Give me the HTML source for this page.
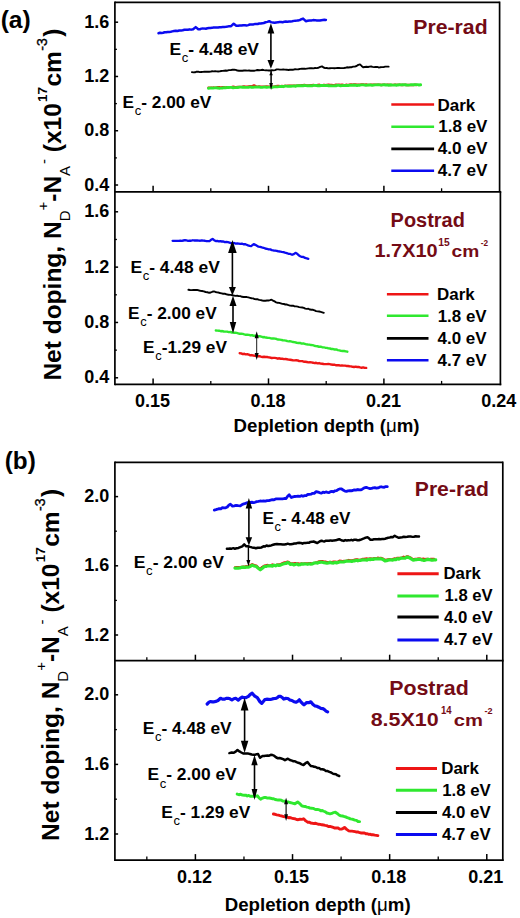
<!DOCTYPE html>
<html><head><meta charset="utf-8"><style>
html,body{margin:0;padding:0;background:#fff;}
svg{display:block;}
text{font-family:'Liberation Sans', sans-serif;font-weight:bold;}
</style></head><body>
<svg width="520" height="918" viewBox="0 0 520 918">
<rect width="520" height="918" fill="#fff"/>
<line x1="114.90" y1="2.40" x2="499.60" y2="2.40" stroke="#000" stroke-width="1.7"/>
<line x1="114.90" y1="1.55" x2="114.90" y2="385.25" stroke="#000" stroke-width="1.7"/>
<line x1="499.60" y1="1.55" x2="499.60" y2="191.80" stroke="#000" stroke-width="1.7"/>
<line x1="500.40" y1="191.80" x2="500.40" y2="385.25" stroke="#000" stroke-width="1.7"/>
<line x1="114.90" y1="191.80" x2="501.25" y2="191.80" stroke="#000" stroke-width="1.7"/>
<line x1="114.90" y1="384.40" x2="501.25" y2="384.40" stroke="#000" stroke-width="1.7"/>
<line x1="153.10" y1="191.80" x2="153.10" y2="185.80" stroke="#000" stroke-width="1.5"/>
<line x1="268.50" y1="191.80" x2="268.50" y2="185.80" stroke="#000" stroke-width="1.5"/>
<line x1="383.90" y1="191.80" x2="383.90" y2="185.80" stroke="#000" stroke-width="1.5"/>
<line x1="210.80" y1="191.80" x2="210.80" y2="188.30" stroke="#000" stroke-width="1.3"/>
<line x1="326.20" y1="191.80" x2="326.20" y2="188.30" stroke="#000" stroke-width="1.3"/>
<line x1="441.60" y1="191.80" x2="441.60" y2="188.30" stroke="#000" stroke-width="1.3"/>
<line x1="153.10" y1="384.40" x2="153.10" y2="378.40" stroke="#000" stroke-width="1.5"/>
<line x1="268.50" y1="384.40" x2="268.50" y2="378.40" stroke="#000" stroke-width="1.5"/>
<line x1="383.90" y1="384.40" x2="383.90" y2="378.40" stroke="#000" stroke-width="1.5"/>
<line x1="210.80" y1="384.40" x2="210.80" y2="380.90" stroke="#000" stroke-width="1.3"/>
<line x1="326.20" y1="384.40" x2="326.20" y2="380.90" stroke="#000" stroke-width="1.3"/>
<line x1="441.60" y1="384.40" x2="441.60" y2="380.90" stroke="#000" stroke-width="1.3"/>
<line x1="114.90" y1="22.20" x2="118.10" y2="22.20" stroke="#000" stroke-width="1.5"/>
<text x="109.40" y="27.70" font-size="18" fill="#000" text-anchor="end">1.6</text>
<line x1="114.90" y1="76.47" x2="118.10" y2="76.47" stroke="#000" stroke-width="1.5"/>
<text x="109.40" y="81.97" font-size="18" fill="#000" text-anchor="end">1.2</text>
<line x1="114.90" y1="130.74" x2="118.10" y2="130.74" stroke="#000" stroke-width="1.5"/>
<text x="109.40" y="136.24" font-size="18" fill="#000" text-anchor="end">0.8</text>
<line x1="114.90" y1="185.01" x2="118.10" y2="185.01" stroke="#000" stroke-width="1.5"/>
<text x="109.40" y="190.51" font-size="18" fill="#000" text-anchor="end">0.4</text>
<line x1="114.90" y1="49.34" x2="116.90" y2="49.34" stroke="#000" stroke-width="1.3"/>
<line x1="114.90" y1="103.61" x2="116.90" y2="103.61" stroke="#000" stroke-width="1.3"/>
<line x1="114.90" y1="157.88" x2="116.90" y2="157.88" stroke="#000" stroke-width="1.3"/>
<line x1="114.90" y1="211.80" x2="118.10" y2="211.80" stroke="#000" stroke-width="1.5"/>
<text x="109.40" y="217.30" font-size="18" fill="#000" text-anchor="end">1.6</text>
<line x1="114.90" y1="267.13" x2="118.10" y2="267.13" stroke="#000" stroke-width="1.5"/>
<text x="109.40" y="272.63" font-size="18" fill="#000" text-anchor="end">1.2</text>
<line x1="114.90" y1="322.46" x2="118.10" y2="322.46" stroke="#000" stroke-width="1.5"/>
<text x="109.40" y="327.96" font-size="18" fill="#000" text-anchor="end">0.8</text>
<line x1="114.90" y1="377.79" x2="118.10" y2="377.79" stroke="#000" stroke-width="1.5"/>
<text x="109.40" y="383.29" font-size="18" fill="#000" text-anchor="end">0.4</text>
<line x1="114.90" y1="239.47" x2="116.90" y2="239.47" stroke="#000" stroke-width="1.3"/>
<line x1="114.90" y1="294.80" x2="116.90" y2="294.80" stroke="#000" stroke-width="1.3"/>
<line x1="114.90" y1="350.13" x2="116.90" y2="350.13" stroke="#000" stroke-width="1.3"/>
<text x="152.60" y="406.50" font-size="18" fill="#000" text-anchor="middle">0.15</text>
<text x="268.00" y="406.50" font-size="18" fill="#000" text-anchor="middle">0.18</text>
<text x="383.40" y="406.50" font-size="18" fill="#000" text-anchor="middle">0.21</text>
<text x="498.80" y="406.50" font-size="18" fill="#000" text-anchor="middle">0.24</text>
<text transform="translate(233.53,431.90) scale(1.0671,1)" font-size="17.5" fill="#000" text-anchor="start">Depletion depth (<tspan font-weight="normal">&#956;</tspan>m)</text>
<text transform="translate(0.63,27.80) scale(1.0731,1)" font-size="23" fill="#000" text-anchor="start">(a)</text>
<path d="M158.50,33.20 L160.03,32.78 L161.57,33.01 L163.10,32.76 L164.63,32.25 L166.17,32.20 L167.70,31.97 L169.23,31.89 L170.77,31.77 L172.30,31.40 L174.03,30.96 L175.77,30.72 L177.50,31.00 L179.23,30.56 L180.97,30.56 L182.70,30.20 L184.43,29.73 L186.17,29.83 L187.90,29.83 L189.63,29.37 L191.37,29.63 L193.10,29.20 L195.70,27.10 L198.30,29.20 L199.81,29.29 L201.33,28.62 L202.84,28.47 L204.35,28.62 L205.86,28.71 L207.38,28.23 L208.89,27.98 L210.40,28.00 L211.93,27.85 L213.47,27.52 L215.00,27.53 L216.53,27.56 L218.07,27.50 L219.60,27.24 L221.13,27.14 L222.67,27.03 L224.20,27.10 L225.92,26.85 L227.65,26.52 L229.38,26.14 L231.10,26.20 L233.70,23.70 L236.30,25.70 L238.04,25.82 L239.78,25.57 L241.52,25.55 L243.26,25.19 L245.00,25.30 L246.60,25.40 L248.20,25.12 L249.80,24.47 L251.40,24.40 L253.00,24.43 L254.60,24.10 L256.13,24.04 L257.67,24.00 L259.20,23.50 L260.73,23.56 L262.27,23.29 L263.80,23.00 L265.60,22.28 L267.40,21.85 L269.20,21.20 L271.05,22.13 L272.90,22.60 L274.52,22.71 L276.14,22.40 L277.77,22.35 L279.39,21.92 L281.01,21.95 L282.63,22.18 L284.26,21.85 L285.88,21.60 L287.50,21.70 L289.07,21.54 L290.64,21.45 L292.21,21.25 L293.79,20.88 L295.36,20.73 L296.93,20.59 L298.50,20.40 L300.03,19.97 L301.57,19.21 L303.10,18.60 L305.80,21.20 L307.65,20.74 L309.50,20.40 L311.32,20.39 L313.15,20.12 L314.98,20.13 L316.80,20.40 L318.32,20.44 L319.83,20.52 L321.35,20.21 L322.87,20.00 L324.38,19.79 L325.90,19.90" fill="none" stroke="#0b0bf0" stroke-width="2.5" stroke-linejoin="round" stroke-linecap="round"/>
<path d="M191.90,72.10 L193.47,72.33 L195.04,72.29 L196.61,71.71 L198.18,71.69 L199.75,72.10 L201.32,72.00 L202.89,71.92 L204.46,71.66 L206.03,71.80 L207.60,71.70 L209.11,71.69 L210.62,71.59 L212.12,71.26 L213.63,71.35 L215.14,71.25 L216.65,71.37 L218.15,71.46 L219.66,71.35 L221.17,71.03 L222.68,70.90 L224.18,70.71 L225.69,70.50 L227.20,70.70 L228.92,70.14 L230.65,70.13 L232.38,69.77 L234.10,69.60 L235.73,69.89 L237.37,70.57 L239.00,70.70 L240.67,70.72 L242.34,70.74 L244.01,70.54 L245.69,70.41 L247.36,70.60 L249.03,70.48 L250.70,70.70 L252.39,70.58 L254.07,70.74 L255.76,70.42 L257.44,69.99 L259.13,70.29 L260.81,70.11 L262.50,69.80 L264.08,70.08 L265.66,70.32 L267.24,70.38 L268.82,70.53 L270.40,70.50 L271.96,70.19 L273.52,70.35 L275.08,70.12 L276.64,69.42 L278.20,69.40 L279.89,69.61 L281.57,69.64 L283.26,69.55 L284.94,69.65 L286.63,69.68 L288.31,70.00 L290.00,69.80 L291.70,69.64 L293.40,69.68 L295.10,69.24 L296.80,69.40 L298.50,69.25 L300.20,68.83 L301.90,68.70 L303.54,68.67 L305.19,68.82 L306.83,68.63 L308.48,68.43 L310.12,68.20 L311.77,68.19 L313.41,68.35 L315.06,67.97 L316.70,68.10 L318.47,67.78 L320.23,66.83 L322.00,66.40 L323.60,67.50 L325.20,68.10 L326.74,67.99 L328.27,68.37 L329.81,68.22 L331.35,68.10 L332.88,68.11 L334.42,68.19 L335.95,68.15 L337.49,67.99 L339.03,67.92 L340.56,68.11 L342.10,68.10 L343.69,68.17 L345.28,67.80 L346.86,67.28 L348.45,67.54 L350.04,67.30 L351.62,67.22 L353.21,66.60 L354.80,66.60 L356.53,66.01 L358.27,64.87 L360.00,64.40 L361.60,65.94 L363.20,67.30 L364.80,66.99 L366.40,66.79 L368.00,67.00 L369.60,66.60 L371.10,66.46 L372.60,66.81 L374.10,67.11 L375.60,66.85 L377.10,66.93 L378.60,67.43 L380.10,67.30 L381.80,67.11 L383.50,67.15 L385.20,66.60 L386.90,66.66 L388.60,66.60" fill="none" stroke="#000" stroke-width="1.9" stroke-linejoin="round" stroke-linecap="round"/>
<path d="M208.50,87.80 L210.04,87.59 L211.57,87.73 L213.11,87.57 L214.65,87.66 L216.18,87.63 L217.72,87.24 L219.25,87.16 L220.79,87.60 L222.33,87.21 L223.86,87.14 L225.40,87.55 L226.94,87.18 L228.47,87.35 L230.01,87.09 L231.55,87.13 L233.08,86.79 L234.62,87.03 L236.15,87.12 L237.69,86.86 L239.23,86.94 L240.76,86.85 L242.30,86.70 L243.92,86.39 L245.53,86.75 L247.15,86.60 L248.77,86.38 L250.38,86.17 L252.00,86.40 L254.00,85.40 L256.00,86.40 L257.53,86.64 L259.07,86.43 L260.60,86.60 L262.13,86.72 L263.67,86.64 L265.20,86.79 L266.73,86.49 L268.27,86.76 L269.80,86.60 L271.31,86.50 L272.82,86.73 L274.33,86.63 L275.84,86.09 L277.35,86.05 L278.86,86.03 L280.37,86.41 L281.88,86.03 L283.39,86.08 L284.90,85.81 L286.40,85.87 L287.91,85.73 L289.42,85.64 L290.93,85.72 L292.44,85.65 L293.95,85.78 L295.46,85.58 L296.97,85.66 L298.48,85.55 L299.99,85.56 L301.50,85.20 L303.00,85.29 L304.50,84.98 L306.00,85.38 L307.50,85.44 L309.00,85.39 L310.50,85.18 L312.00,85.25 L313.50,84.94 L315.00,85.30 L316.50,85.14 L318.00,84.96 L319.50,84.81 L321.00,85.28 L322.50,85.35 L324.00,84.80 L325.50,85.21 L327.00,84.97 L328.50,84.80 L330.00,85.00 L331.50,84.86 L333.00,85.12 L334.50,85.16 L336.00,84.65 L337.50,84.97 L339.00,84.61 L340.50,84.99 L342.00,84.74 L343.50,85.05 L345.00,85.09 L346.50,84.78 L348.00,85.06 L349.50,84.63 L351.00,84.47 L352.50,84.76 L354.00,84.40 L355.50,84.48 L357.00,84.58 L358.50,84.69 L360.00,84.60 L361.53,84.40 L363.05,84.35 L364.58,84.85 L366.11,84.53 L367.64,84.93 L369.16,84.90 L370.69,84.60 L372.22,84.66 L373.74,84.71 L375.27,84.79 L376.80,84.78 L378.32,84.77 L379.85,84.81 L381.38,85.02 L382.91,84.77 L384.43,84.73 L385.96,84.92 L387.49,84.64 L389.01,84.69 L390.54,85.10 L392.07,84.84 L393.59,84.87 L395.12,84.56 L396.65,84.81 L398.18,84.92 L399.70,84.59 L401.23,84.96 L402.76,84.98 L404.28,84.65 L405.81,85.00 L407.34,84.91 L408.86,85.05 L410.39,84.87 L411.92,85.09 L413.45,85.12 L414.97,84.70 L416.50,85.00" fill="none" stroke="#ee1515" stroke-width="2.4" stroke-linejoin="round" stroke-linecap="round"/>
<path d="M208.50,88.30 L210.04,88.09 L211.57,87.96 L213.11,88.09 L214.65,87.89 L216.18,87.79 L217.72,87.94 L219.25,88.20 L220.79,88.08 L222.33,88.01 L223.86,87.63 L225.40,87.77 L226.94,87.57 L228.47,87.45 L230.01,87.36 L231.55,87.38 L233.08,87.76 L234.62,87.65 L236.15,87.58 L237.69,87.53 L239.23,87.12 L240.76,87.14 L242.30,87.20 L243.83,87.27 L245.36,87.33 L246.88,87.40 L248.41,87.41 L249.94,86.92 L251.47,87.23 L252.99,87.26 L254.52,87.16 L256.05,86.96 L257.58,87.13 L259.11,86.89 L260.63,87.39 L262.16,87.35 L263.69,87.15 L265.22,87.00 L266.74,87.36 L268.27,87.15 L269.80,87.10 L271.31,87.26 L272.82,87.18 L274.33,86.91 L275.84,86.78 L277.35,86.83 L278.86,86.66 L280.37,86.43 L281.88,86.45 L283.39,86.69 L284.90,86.16 L286.40,86.09 L287.91,86.38 L289.42,86.10 L290.93,86.19 L292.44,86.08 L293.95,85.94 L295.46,86.27 L296.97,85.72 L298.48,85.78 L299.99,85.59 L301.50,85.70 L303.00,85.77 L304.50,85.56 L306.00,85.60 L307.50,85.83 L309.00,85.57 L310.50,85.70 L312.00,85.91 L313.50,85.42 L315.00,85.39 L316.50,85.48 L318.00,85.80 L319.50,85.71 L321.00,85.47 L322.50,85.52 L324.00,85.43 L325.50,85.59 L327.00,85.34 L328.50,85.72 L330.00,85.60 L331.50,85.82 L333.00,85.83 L334.50,85.68 L336.00,85.80 L337.50,85.21 L339.00,85.35 L340.50,85.74 L342.00,85.61 L343.50,85.37 L345.00,85.67 L346.50,85.45 L348.00,85.55 L349.50,85.22 L351.00,85.13 L352.50,85.27 L354.00,85.06 L355.50,85.19 L357.00,85.52 L358.50,85.12 L360.00,85.20 L361.51,84.90 L363.03,84.91 L364.55,84.97 L366.06,85.33 L367.57,85.07 L369.09,85.01 L370.61,84.89 L372.12,85.41 L373.63,85.06 L375.15,84.92 L376.67,84.83 L378.18,84.81 L379.69,84.87 L381.21,85.17 L382.73,84.84 L384.24,84.76 L385.75,85.02 L387.27,84.87 L388.79,85.31 L390.30,84.77 L391.81,85.01 L393.33,85.14 L394.85,84.92 L396.36,85.25 L397.88,84.94 L399.39,84.79 L400.91,84.88 L402.42,84.64 L403.94,84.86 L405.45,84.75 L406.97,85.12 L408.48,85.08 L410.00,84.87 L411.51,84.58 L413.03,84.70 L414.54,84.69 L416.06,84.65 L417.57,84.66 L419.09,85.03 L420.60,84.80" fill="none" stroke="#2fe82f" stroke-width="2.9" stroke-linejoin="round" stroke-linecap="round"/>
<line x1="270.90" y1="28.35" x2="270.90" y2="64.40" stroke="#000" stroke-width="1.6"/>
<path d="M270.90,23.20 L267.50,33.50 L274.30,33.50 Z" fill="#000"/>
<path d="M270.90,68.80 L267.50,60.00 L274.30,60.00 Z" fill="#000"/>
<line x1="271.10" y1="71.00" x2="271.10" y2="86.00" stroke="#000" stroke-width="1.5"/>
<path d="M271.10,71.50 L269.30,75.30 L272.90,75.30 Z" fill="#000"/>
<path d="M271.10,90.00 L269.30,83.00 L272.90,83.00 Z" fill="#000"/>
<text transform="translate(169.41,54.80) scale(1.0901,1)" font-size="16" fill="#000" text-anchor="start">E<tspan font-size="12" font-weight="normal" dy="7.2" dx="0.6">c</tspan><tspan dy="-7.2">- 4.48 eV</tspan></text>
<text transform="translate(122.62,108.10) scale(1.0802,1)" font-size="16" fill="#000" text-anchor="start">E<tspan font-size="12" font-weight="normal" dy="7.2" dx="0.6">c</tspan><tspan dy="-7.2">- 2.00 eV</tspan></text>
<text transform="translate(413.26,33.60) scale(1.0371,1)" font-size="20.5" fill="#740b15" text-anchor="start">Pre-rad</text>
<line x1="391.30" y1="104.50" x2="434.10" y2="104.50" stroke="#ee1515" stroke-width="2.6"/>
<text transform="translate(437.47,110.60) scale(1.0306,1)" font-size="16.5" fill="#000" text-anchor="start">Dark</text>
<line x1="391.30" y1="126.70" x2="434.10" y2="126.70" stroke="#2fe82f" stroke-width="2.6"/>
<text transform="translate(438.37,132.25) scale(1.0287,1)" font-size="16.5" fill="#000" text-anchor="start">1.8 eV</text>
<line x1="391.30" y1="148.90" x2="434.10" y2="148.90" stroke="#000" stroke-width="2.6"/>
<text transform="translate(437.75,153.75) scale(1.0417,1)" font-size="16.5" fill="#000" text-anchor="start">4.0 eV</text>
<line x1="391.30" y1="170.70" x2="434.10" y2="170.70" stroke="#0b0bf0" stroke-width="2.6"/>
<text transform="translate(437.75,175.60) scale(1.0417,1)" font-size="16.5" fill="#000" text-anchor="start">4.7 eV</text>
<path d="M172.60,240.80 L174.14,240.83 L175.69,240.86 L177.23,240.85 L178.77,240.89 L180.31,240.73 L181.86,240.80 L183.40,240.50 L184.94,240.22 L186.47,240.48 L188.01,240.77 L189.55,240.59 L191.09,240.74 L192.62,240.27 L194.16,240.48 L195.70,240.50 L197.23,240.41 L198.77,240.66 L200.30,240.74 L201.83,240.47 L203.37,240.66 L204.90,240.77 L206.43,241.22 L207.97,241.19 L209.50,241.10 L211.05,239.80 L212.60,238.90 L214.15,240.18 L215.70,241.10 L217.22,240.98 L218.75,241.37 L220.28,241.18 L221.80,241.50 L223.34,241.42 L224.88,242.16 L226.42,241.99 L227.96,242.21 L229.50,242.60 L231.04,243.07 L232.58,243.18 L234.12,243.01 L235.66,243.60 L237.20,243.50 L238.76,243.64 L240.32,243.85 L241.88,243.68 L243.44,244.24 L245.00,244.10 L246.53,244.71 L248.05,245.38 L249.57,245.84 L251.10,246.10 L253.70,244.10 L255.30,244.85 L256.90,245.75 L258.50,246.70 L260.18,246.95 L261.85,247.39 L263.52,247.79 L265.20,248.50 L266.88,248.78 L268.55,249.36 L270.22,249.40 L271.90,250.10 L273.52,250.49 L275.14,250.56 L276.76,250.83 L278.38,251.41 L280.00,251.50 L281.68,251.89 L283.35,252.19 L285.02,252.69 L286.70,253.10 L288.50,253.79 L290.30,253.97 L292.10,254.80 L293.80,254.09 L295.50,252.80 L297.07,253.65 L298.63,255.22 L300.20,256.20 L301.82,256.95 L303.44,256.99 L305.06,257.99 L306.68,258.28 L308.30,258.90" fill="none" stroke="#0b0bf0" stroke-width="2.3" stroke-linejoin="round" stroke-linecap="round"/>
<path d="M188.40,289.80 L190.08,290.06 L191.77,290.16 L193.45,290.04 L195.13,289.99 L196.82,289.92 L198.50,290.30 L200.27,290.76 L202.03,291.02 L203.80,291.40 L205.60,292.02 L207.40,292.26 L209.20,292.80 L210.77,292.50 L212.33,291.73 L213.90,291.40 L215.43,291.98 L216.95,292.34 L218.47,292.55 L220.00,293.00 L221.57,293.32 L223.13,293.71 L224.70,293.72 L226.27,294.23 L227.83,294.68 L229.40,294.80 L230.97,294.88 L232.53,295.42 L234.10,295.56 L235.67,295.87 L237.23,295.78 L238.80,296.10 L240.40,296.10 L242.00,296.77 L243.60,297.01 L245.20,297.04 L246.80,297.07 L248.40,297.38 L250.00,297.80 L251.54,298.22 L253.07,298.35 L254.61,299.08 L256.15,299.20 L257.69,299.31 L259.23,299.92 L260.76,300.08 L262.30,300.50 L263.85,300.76 L265.40,300.75 L266.95,300.51 L268.50,300.50 L270.00,300.19 L271.50,299.70 L273.05,300.59 L274.60,301.43 L276.15,302.31 L277.70,302.80 L279.24,302.85 L280.79,303.37 L282.33,303.85 L283.87,304.00 L285.41,304.50 L286.96,304.53 L288.50,305.10 L290.03,305.61 L291.56,305.69 L293.09,305.73 L294.61,306.34 L296.14,306.42 L297.67,306.63 L299.20,307.10 L300.74,307.42 L302.27,307.53 L303.81,307.90 L305.35,308.62 L306.89,308.84 L308.43,308.76 L309.96,309.54 L311.50,309.70 L313.04,309.80 L314.57,310.37 L316.11,311.11 L317.65,311.32 L319.19,311.52 L320.73,311.95 L322.26,312.35 L323.80,312.80" fill="none" stroke="#000" stroke-width="1.9" stroke-linejoin="round" stroke-linecap="round"/>
<path d="M215.80,330.50 L217.42,330.59 L219.04,330.69 L220.66,331.19 L222.28,331.04 L223.90,331.52 L225.52,331.62 L227.14,331.63 L228.76,332.10 L230.38,332.02 L232.00,332.50 L233.54,332.68 L235.08,332.68 L236.62,332.91 L238.16,333.33 L239.70,333.80 L241.24,333.59 L242.78,333.87 L244.32,334.34 L245.86,334.75 L247.40,334.75 L248.94,334.86 L250.48,335.43 L252.02,335.09 L253.56,335.80 L255.10,335.80 L256.64,335.91 L258.18,336.07 L259.72,336.29 L261.26,336.65 L262.80,337.19 L264.34,337.05 L265.88,337.53 L267.42,337.80 L268.96,337.88 L270.50,338.20 L272.04,338.48 L273.57,338.44 L275.11,338.69 L276.64,339.02 L278.18,339.56 L279.71,339.66 L281.25,339.84 L282.79,340.25 L284.32,340.42 L285.86,340.58 L287.39,341.13 L288.93,341.32 L290.46,341.30 L292.00,341.70 L293.60,342.02 L295.20,342.28 L296.80,342.77 L298.40,342.96 L300.00,342.97 L301.60,343.67 L303.20,343.43 L304.80,343.89 L306.40,344.37 L308.00,344.50 L309.57,344.58 L311.14,345.06 L312.71,345.08 L314.29,345.74 L315.86,346.09 L317.43,346.26 L319.00,346.73 L320.57,346.67 L322.14,347.19 L323.71,347.41 L325.29,347.69 L326.86,347.90 L328.43,348.42 L330.00,348.50 L331.57,349.06 L333.15,349.07 L334.72,349.47 L336.29,349.40 L337.86,350.08 L339.44,350.33 L341.01,350.83 L342.58,351.02 L344.15,350.99 L345.73,351.34 L347.30,351.70" fill="none" stroke="#2fe82f" stroke-width="2.4" stroke-linejoin="round" stroke-linecap="round"/>
<path d="M239.70,353.30 L241.22,353.38 L242.74,354.06 L244.26,353.80 L245.79,354.39 L247.31,354.27 L248.83,354.61 L250.35,355.30 L251.87,355.07 L253.39,355.57 L254.91,355.70 L256.44,355.94 L257.96,356.21 L259.48,356.27 L261.00,356.70 L262.53,357.05 L264.06,356.76 L265.59,357.00 L267.12,357.02 L268.65,357.32 L270.18,357.56 L271.71,358.01 L273.24,357.85 L274.76,357.84 L276.29,358.08 L277.82,358.68 L279.35,358.27 L280.88,358.76 L282.41,358.77 L283.94,359.09 L285.47,359.05 L287.00,359.30 L288.53,359.61 L290.06,359.70 L291.59,359.99 L293.12,360.34 L294.65,360.35 L296.18,360.29 L297.71,360.44 L299.24,361.17 L300.76,361.09 L302.29,361.12 L303.82,361.77 L305.35,361.75 L306.88,362.04 L308.41,362.33 L309.94,362.17 L311.47,362.41 L313.00,362.70 L314.52,363.08 L316.05,362.79 L317.57,363.32 L319.09,363.07 L320.62,363.58 L322.14,363.74 L323.66,364.04 L325.19,364.13 L326.71,364.08 L328.24,364.05 L329.76,364.17 L331.28,364.55 L332.81,364.69 L334.33,364.58 L335.85,365.24 L337.38,365.15 L338.90,365.30 L340.42,365.57 L341.93,365.42 L343.45,365.58 L344.97,365.58 L346.48,365.93 L348.00,366.03 L349.52,366.27 L351.03,366.38 L352.55,366.80 L354.07,366.98 L355.58,366.69 L357.10,366.97 L358.62,366.98 L360.13,367.42 L361.65,367.75 L363.17,367.43 L364.68,367.92 L366.20,367.90" fill="none" stroke="#ee1515" stroke-width="2.4" stroke-linejoin="round" stroke-linecap="round"/>
<line x1="232.40" y1="246.60" x2="232.40" y2="291.30" stroke="#000" stroke-width="1.6"/>
<path d="M232.40,240.10 L228.10,253.10 L236.70,253.10 Z" fill="#000"/>
<path d="M232.40,295.60 L228.90,287.00 L235.90,287.00 Z" fill="#000"/>
<line x1="233.00" y1="300.95" x2="233.00" y2="327.65" stroke="#000" stroke-width="1.6"/>
<path d="M233.00,295.80 L229.50,306.10 L236.50,306.10 Z" fill="#000"/>
<path d="M233.00,333.40 L229.75,321.90 L236.25,321.90 Z" fill="#000"/>
<line x1="256.70" y1="335.00" x2="256.70" y2="356.00" stroke="#000" stroke-width="0.9"/>
<path d="M256.70,331.30 L254.60,338.30 L258.80,338.30 Z" fill="#000"/>
<path d="M256.70,360.10 L254.70,353.10 L258.70,353.10 Z" fill="#000"/>
<text transform="translate(130.41,272.60) scale(1.0889,1)" font-size="16" fill="#000" text-anchor="start">E<tspan font-size="12" font-weight="normal" dy="7.2" dx="0.6">c</tspan><tspan dy="-7.2">- 4.48 eV</tspan></text>
<text transform="translate(128.12,318.80) scale(1.0778,1)" font-size="16" fill="#000" text-anchor="start">E<tspan font-size="12" font-weight="normal" dy="7.2" dx="0.6">c</tspan><tspan dy="-7.2">- 2.00 eV</tspan></text>
<text transform="translate(143.12,352.70) scale(1.0792,1)" font-size="16" fill="#000" text-anchor="start">E<tspan font-size="12" font-weight="normal" dy="7.2" dx="0.6">c</tspan><tspan dy="-7.2">-1.29 eV</tspan></text>
<text transform="translate(390.58,227.10) scale(1.0225,1)" font-size="19.5" fill="#740b15" text-anchor="start">Postrad</text>
<text transform="translate(374.42,256.60) scale(1.0789,1)" font-size="18.5" fill="#740b15" text-anchor="start">1.7X10</text>
<text transform="translate(438.30,245.50) scale(1.0273,1)" font-size="10" fill="#740b15" text-anchor="start">15</text>
<text transform="translate(451.50,256.60) scale(1.1292,1)" font-size="17" fill="#740b15" text-anchor="start">cm</text>
<text transform="translate(480.80,245.80) scale(0.8667,1)" font-size="9.5" fill="#740b15" text-anchor="start">-2</text>
<line x1="386.90" y1="294.30" x2="428.50" y2="294.30" stroke="#ee1515" stroke-width="2.6"/>
<text transform="translate(437.08,299.90) scale(1.0250,1)" font-size="16.5" fill="#000" text-anchor="start">Dark</text>
<line x1="386.90" y1="315.80" x2="428.50" y2="315.80" stroke="#2fe82f" stroke-width="2.6"/>
<text transform="translate(437.73,321.75) scale(1.0245,1)" font-size="16.5" fill="#000" text-anchor="start">1.8 eV</text>
<line x1="386.90" y1="338.40" x2="428.50" y2="338.40" stroke="#000" stroke-width="2.6"/>
<text transform="translate(437.50,343.60) scale(1.0292,1)" font-size="16.5" fill="#000" text-anchor="start">4.0 eV</text>
<line x1="386.90" y1="360.30" x2="428.50" y2="360.30" stroke="#0b0bf0" stroke-width="2.6"/>
<text transform="translate(437.50,365.50) scale(1.0292,1)" font-size="16.5" fill="#000" text-anchor="start">4.7 eV</text>
<line x1="114.90" y1="462.40" x2="502.80" y2="462.40" stroke="#000" stroke-width="1.7"/>
<line x1="114.90" y1="461.55" x2="114.90" y2="860.95" stroke="#000" stroke-width="1.7"/>
<line x1="502.80" y1="461.55" x2="502.80" y2="660.70" stroke="#000" stroke-width="1.7"/>
<line x1="502.80" y1="660.70" x2="502.80" y2="860.95" stroke="#000" stroke-width="1.7"/>
<line x1="114.90" y1="660.70" x2="503.65" y2="660.70" stroke="#000" stroke-width="1.7"/>
<line x1="114.90" y1="860.10" x2="503.65" y2="860.10" stroke="#000" stroke-width="1.7"/>
<line x1="195.40" y1="660.70" x2="195.40" y2="654.70" stroke="#000" stroke-width="1.5"/>
<line x1="292.53" y1="660.70" x2="292.53" y2="654.70" stroke="#000" stroke-width="1.5"/>
<line x1="389.66" y1="660.70" x2="389.66" y2="654.70" stroke="#000" stroke-width="1.5"/>
<line x1="486.79" y1="660.70" x2="486.79" y2="654.70" stroke="#000" stroke-width="1.5"/>
<line x1="146.83" y1="660.70" x2="146.83" y2="657.20" stroke="#000" stroke-width="1.3"/>
<line x1="243.97" y1="660.70" x2="243.97" y2="657.20" stroke="#000" stroke-width="1.3"/>
<line x1="341.10" y1="660.70" x2="341.10" y2="657.20" stroke="#000" stroke-width="1.3"/>
<line x1="438.23" y1="660.70" x2="438.23" y2="657.20" stroke="#000" stroke-width="1.3"/>
<line x1="195.40" y1="860.10" x2="195.40" y2="854.10" stroke="#000" stroke-width="1.5"/>
<line x1="292.53" y1="860.10" x2="292.53" y2="854.10" stroke="#000" stroke-width="1.5"/>
<line x1="389.66" y1="860.10" x2="389.66" y2="854.10" stroke="#000" stroke-width="1.5"/>
<line x1="486.79" y1="860.10" x2="486.79" y2="854.10" stroke="#000" stroke-width="1.5"/>
<line x1="146.83" y1="860.10" x2="146.83" y2="856.60" stroke="#000" stroke-width="1.3"/>
<line x1="243.97" y1="860.10" x2="243.97" y2="856.60" stroke="#000" stroke-width="1.3"/>
<line x1="341.10" y1="860.10" x2="341.10" y2="856.60" stroke="#000" stroke-width="1.3"/>
<line x1="438.23" y1="860.10" x2="438.23" y2="856.60" stroke="#000" stroke-width="1.3"/>
<line x1="114.90" y1="496.60" x2="118.10" y2="496.60" stroke="#000" stroke-width="1.5"/>
<text x="109.40" y="502.10" font-size="18" fill="#000" text-anchor="end">2.0</text>
<line x1="114.90" y1="565.80" x2="118.10" y2="565.80" stroke="#000" stroke-width="1.5"/>
<text x="109.40" y="571.30" font-size="18" fill="#000" text-anchor="end">1.6</text>
<line x1="114.90" y1="635.00" x2="118.10" y2="635.00" stroke="#000" stroke-width="1.5"/>
<text x="109.40" y="640.50" font-size="18" fill="#000" text-anchor="end">1.2</text>
<line x1="114.90" y1="531.20" x2="116.90" y2="531.20" stroke="#000" stroke-width="1.3"/>
<line x1="114.90" y1="600.40" x2="116.90" y2="600.40" stroke="#000" stroke-width="1.3"/>
<line x1="114.90" y1="694.80" x2="118.10" y2="694.80" stroke="#000" stroke-width="1.5"/>
<text x="109.40" y="700.30" font-size="18" fill="#000" text-anchor="end">2.0</text>
<line x1="114.90" y1="764.40" x2="118.10" y2="764.40" stroke="#000" stroke-width="1.5"/>
<text x="109.40" y="769.90" font-size="18" fill="#000" text-anchor="end">1.6</text>
<line x1="114.90" y1="834.00" x2="118.10" y2="834.00" stroke="#000" stroke-width="1.5"/>
<text x="109.40" y="839.50" font-size="18" fill="#000" text-anchor="end">1.2</text>
<line x1="114.90" y1="729.60" x2="116.90" y2="729.60" stroke="#000" stroke-width="1.3"/>
<line x1="114.90" y1="799.20" x2="116.90" y2="799.20" stroke="#000" stroke-width="1.3"/>
<text x="194.40" y="882.50" font-size="18" fill="#000" text-anchor="middle">0.12</text>
<text x="291.53" y="882.50" font-size="18" fill="#000" text-anchor="middle">0.15</text>
<text x="388.66" y="882.50" font-size="18" fill="#000" text-anchor="middle">0.18</text>
<text x="485.79" y="882.50" font-size="18" fill="#000" text-anchor="middle">0.21</text>
<text transform="translate(224.73,911.20) scale(1.0671,1)" font-size="17.5" fill="#000" text-anchor="start">Depletion depth (<tspan font-weight="normal">&#956;</tspan>m)</text>
<text transform="translate(4.74,468.50) scale(1.0571,1)" font-size="23" fill="#000" text-anchor="start">(b)</text>
<path d="M214.30,510.10 L215.93,509.68 L217.55,509.20 L219.18,508.58 L220.80,508.92 L222.43,507.67 L224.05,507.78 L225.68,507.79 L227.30,507.00 L228.85,505.18 L230.40,504.20 L232.50,506.10 L234.25,505.80 L236.00,505.40 L238.15,505.72 L240.30,505.80 L242.45,504.29 L244.60,503.70 L246.75,502.88 L248.90,502.30 L250.43,502.50 L251.95,502.25 L253.47,502.53 L255.00,502.30 L256.73,501.66 L258.45,501.44 L260.17,501.01 L261.90,501.10 L263.64,500.91 L265.38,501.12 L267.12,500.59 L268.86,500.57 L270.60,500.10 L272.32,499.72 L274.04,499.83 L275.76,498.92 L277.48,498.85 L279.20,498.80 L280.93,498.90 L282.65,498.88 L284.38,498.50 L286.10,498.50 L287.65,496.24 L289.20,494.80 L291.30,497.50 L293.03,496.90 L294.77,496.48 L296.50,496.40 L298.12,496.04 L299.74,496.43 L301.36,495.68 L302.98,496.23 L304.60,495.70 L306.20,495.70 L307.80,494.49 L309.40,494.43 L311.00,494.16 L312.60,493.31 L314.20,493.40 L316.20,491.60 L318.10,492.12 L320.00,492.80 L321.50,493.10 L323.00,492.19 L324.50,492.56 L326.00,491.98 L327.50,492.32 L329.00,492.53 L330.50,491.73 L332.00,491.42 L333.50,491.80 L335.04,490.78 L336.58,490.64 L338.12,489.52 L339.66,488.98 L341.20,488.80 L343.10,489.95 L345.00,491.10 L346.54,491.40 L348.08,490.78 L349.62,490.64 L351.16,490.76 L352.70,490.50 L354.30,489.88 L355.90,490.15 L357.50,489.52 L359.10,489.74 L360.70,489.87 L362.30,489.20 L364.25,487.80 L366.20,487.30 L368.10,488.01 L370.00,488.60 L371.60,488.47 L373.20,487.78 L374.80,487.67 L376.40,488.16 L378.00,487.93 L379.60,487.20 L381.14,486.72 L382.68,487.21 L384.22,487.35 L385.76,486.54 L387.30,486.70" fill="none" stroke="#0b0bf0" stroke-width="2.8" stroke-linejoin="round" stroke-linecap="round"/>
<path d="M226.90,548.80 L228.50,548.79 L230.10,548.56 L231.70,548.63 L233.30,548.17 L234.90,548.70 L236.50,548.30 L238.43,547.96 L240.37,547.12 L242.30,546.30 L244.20,544.40 L246.20,546.30 L248.10,546.26 L250.00,546.90 L251.93,547.39 L253.87,547.66 L255.80,548.30 L257.70,547.75 L259.60,547.70 L261.55,547.45 L263.50,546.30 L265.04,546.62 L266.58,545.48 L268.12,546.12 L269.66,545.68 L271.20,545.40 L273.10,544.81 L275.00,544.25 L276.90,544.00 L278.83,544.31 L280.77,544.22 L282.70,544.40 L284.34,544.46 L285.99,544.30 L287.63,543.65 L289.27,544.15 L290.91,544.24 L292.56,544.10 L294.20,543.50 L295.86,543.56 L297.51,542.93 L299.17,542.83 L300.83,542.91 L302.49,543.66 L304.14,542.96 L305.80,543.10 L307.34,542.65 L308.88,542.86 L310.42,541.95 L311.96,541.87 L313.50,541.50 L315.40,542.24 L317.30,543.10 L320.00,541.20 L321.51,540.71 L323.02,541.18 L324.54,541.39 L326.05,540.66 L327.56,540.67 L329.08,540.81 L330.59,540.39 L332.10,540.80 L333.88,540.40 L335.65,540.32 L337.43,539.76 L339.20,539.20 L340.70,539.93 L342.20,540.60 L343.72,540.89 L345.23,540.12 L346.75,540.47 L348.27,540.21 L349.78,540.37 L351.30,539.81 L352.82,540.41 L354.33,539.66 L355.85,539.67 L357.37,540.24 L358.88,540.31 L360.40,539.80 L362.17,539.08 L363.95,538.41 L365.73,537.60 L367.50,537.20 L369.00,538.27 L370.50,539.80 L372.18,539.82 L373.87,539.28 L375.55,539.12 L377.23,539.36 L378.92,538.96 L380.60,539.20 L382.11,539.10 L383.62,539.02 L385.14,538.73 L386.65,538.18 L388.16,537.80 L389.68,537.63 L391.19,536.96 L392.70,537.20 L394.70,535.70 L396.75,536.96 L398.80,537.80 L400.48,537.41 L402.17,537.19 L403.85,536.73 L405.53,536.88 L407.22,536.80 L408.90,536.50 L410.58,536.39 L412.27,536.87 L413.95,536.67 L415.63,536.24 L417.32,536.53 L419.00,536.50" fill="none" stroke="#000" stroke-width="2.5" stroke-linejoin="round" stroke-linecap="round"/>
<path d="M235.00,567.40 L236.65,567.23 L238.30,567.21 L239.95,567.45 L241.60,566.87 L243.25,566.78 L244.90,566.74 L246.55,566.21 L248.20,566.40 L250.20,565.36 L252.20,564.30 L254.25,565.13 L256.30,565.70 L258.30,567.64 L260.30,569.00 L262.30,566.94 L264.30,565.70 L265.92,565.36 L267.54,565.01 L269.16,565.59 L270.78,565.33 L272.40,564.54 L274.02,565.34 L275.64,565.18 L277.26,564.73 L278.88,564.56 L280.50,564.30 L282.27,563.31 L284.05,562.52 L285.83,562.38 L287.60,561.70 L289.10,562.26 L290.60,563.70 L292.15,563.36 L293.71,563.38 L295.26,563.14 L296.82,563.54 L298.37,563.49 L299.92,563.86 L301.48,563.50 L303.03,563.59 L304.58,563.42 L306.14,563.55 L307.69,563.32 L309.25,563.11 L310.80,563.30 L312.48,563.46 L314.17,563.13 L315.85,562.64 L317.53,562.17 L319.22,561.45 L320.90,561.30 L322.42,561.28 L323.95,561.59 L325.48,561.62 L327.00,562.30 L328.60,562.45 L330.20,561.96 L331.80,562.29 L333.40,561.71 L335.00,561.70 L336.52,562.02 L338.05,561.78 L339.57,560.80 L341.10,560.88 L342.62,561.44 L344.15,560.87 L345.68,561.25 L347.20,560.53 L348.73,560.07 L350.25,560.50 L351.78,560.51 L353.30,560.10 L354.83,559.75 L356.36,559.44 L357.88,559.57 L359.41,560.08 L360.94,559.75 L362.47,558.98 L363.99,558.99 L365.52,558.72 L367.05,558.56 L368.58,559.17 L370.11,558.43 L371.63,558.69 L373.16,558.46 L374.69,558.08 L376.22,558.50 L377.74,557.78 L379.27,558.17 L380.80,557.90 L382.90,558.62 L385.00,560.10 L386.55,559.78 L388.09,559.33 L389.64,559.15 L391.19,559.61 L392.73,559.20 L394.28,558.46 L395.83,558.80 L397.37,557.89 L398.92,557.83 L400.47,558.05 L402.01,557.60 L403.56,556.82 L405.11,557.47 L406.65,556.45 L408.20,556.50 L410.35,557.51 L412.50,559.00 L414.04,559.27 L415.57,558.83 L417.11,558.80 L418.64,558.57 L420.18,558.59 L421.71,559.08 L423.25,558.74 L424.79,559.10 L426.32,558.87 L427.86,558.95 L429.39,559.46 L430.93,558.98 L432.46,559.07 L434.00,559.00" fill="none" stroke="#ee1515" stroke-width="2.4" stroke-linejoin="round" stroke-linecap="round"/>
<path d="M235.00,568.20 L236.65,568.05 L238.30,568.11 L239.95,567.99 L241.60,567.34 L243.25,567.09 L244.90,567.32 L246.55,567.10 L248.20,567.20 L250.20,566.46 L252.20,565.10 L254.25,565.99 L256.30,566.50 L258.30,568.25 L260.30,569.80 L262.30,568.21 L264.30,566.50 L265.92,566.52 L267.54,565.87 L269.16,566.02 L270.78,565.60 L272.40,566.21 L274.02,565.22 L275.64,565.84 L277.26,564.95 L278.88,565.43 L280.50,565.10 L282.27,564.29 L284.05,563.70 L285.83,563.49 L287.60,562.50 L289.10,563.02 L290.60,564.50 L292.15,564.03 L293.71,564.85 L295.26,564.42 L296.82,563.97 L298.37,564.83 L299.92,564.76 L301.48,563.90 L303.03,564.18 L304.58,563.86 L306.14,564.00 L307.69,564.28 L309.25,563.79 L310.80,564.10 L312.48,563.96 L314.17,562.98 L315.85,562.77 L317.53,563.08 L319.22,562.33 L320.90,562.10 L322.42,562.27 L323.95,562.70 L325.48,562.83 L327.00,563.10 L328.60,562.86 L330.20,562.39 L331.80,562.97 L333.40,563.09 L335.00,562.50 L336.52,562.84 L338.05,562.40 L339.57,561.96 L341.10,561.83 L342.62,562.02 L344.15,561.87 L345.68,561.18 L347.20,561.17 L348.73,561.16 L350.25,561.18 L351.78,561.34 L353.30,560.90 L354.83,560.78 L356.36,560.18 L357.88,560.86 L359.41,560.34 L360.94,560.31 L362.47,559.89 L363.99,559.97 L365.52,559.81 L367.05,560.07 L368.58,559.28 L370.11,559.61 L371.63,559.11 L373.16,559.51 L374.69,558.73 L376.22,558.84 L377.74,558.79 L379.27,558.96 L380.80,558.70 L382.90,559.35 L385.00,560.90 L386.55,560.62 L388.09,560.13 L389.64,559.96 L391.19,559.92 L392.73,560.16 L394.28,559.44 L395.83,559.68 L397.37,558.65 L398.92,559.16 L400.47,558.36 L402.01,557.95 L403.56,558.27 L405.11,558.19 L406.65,557.05 L408.20,557.30 L410.35,558.32 L412.50,559.80 L414.05,560.07 L415.59,559.64 L417.14,559.54 L418.69,559.31 L420.23,559.34 L421.78,559.92 L423.33,560.28 L424.87,560.30 L426.42,559.80 L427.97,559.32 L429.51,559.62 L431.06,560.09 L432.61,560.13 L434.15,559.94 L435.70,559.80" fill="none" stroke="#2fe82f" stroke-width="3.2" stroke-linejoin="round" stroke-linecap="round"/>
<line x1="248.90" y1="503.20" x2="248.90" y2="541.40" stroke="#000" stroke-width="1.6"/>
<path d="M248.90,497.90 L245.65,508.50 L252.15,508.50 Z" fill="#000"/>
<path d="M248.90,545.60 L245.65,537.20 L252.15,537.20 Z" fill="#000"/>
<line x1="248.40" y1="547.00" x2="248.40" y2="562.00" stroke="#000" stroke-width="1.4"/>
<path d="M248.40,566.20 L246.40,560.00 L250.40,560.00 Z" fill="#000"/>
<text transform="translate(262.43,523.60) scale(1.0704,1)" font-size="16" fill="#000" text-anchor="start">E<tspan font-size="12" font-weight="normal" dy="7.2" dx="0.6">c</tspan><tspan dy="-7.2">- 4.48 eV</tspan></text>
<text transform="translate(133.70,567.80) scale(1.0975,1)" font-size="16" fill="#000" text-anchor="start">E<tspan font-size="12" font-weight="normal" dy="7.2" dx="0.6">c</tspan><tspan dy="-7.2">- 2.00 eV</tspan></text>
<text transform="translate(414.77,496.30) scale(1.0329,1)" font-size="20.5" fill="#740b15" text-anchor="start">Pre-rad</text>
<line x1="397.40" y1="573.80" x2="438.70" y2="573.80" stroke="#ee1515" stroke-width="3.0"/>
<text transform="translate(443.48,578.90) scale(1.0167,1)" font-size="16.5" fill="#000" text-anchor="start">Dark</text>
<line x1="397.40" y1="596.00" x2="438.70" y2="596.00" stroke="#2fe82f" stroke-width="3.0"/>
<text transform="translate(444.49,601.00) scale(1.0106,1)" font-size="16.5" fill="#000" text-anchor="start">1.8 eV</text>
<line x1="397.40" y1="617.10" x2="438.70" y2="617.10" stroke="#000" stroke-width="3.0"/>
<text transform="translate(444.00,622.60) scale(1.0208,1)" font-size="16.5" fill="#000" text-anchor="start">4.0 eV</text>
<line x1="397.40" y1="640.00" x2="438.70" y2="640.00" stroke="#0b0bf0" stroke-width="3.0"/>
<text transform="translate(444.00,644.50) scale(1.0208,1)" font-size="16.5" fill="#000" text-anchor="start">4.7 eV</text>
<path d="M207.20,704.00 L208.75,702.46 L210.30,701.50 L212.25,701.87 L214.20,701.80 L216.10,701.37 L218.00,700.50 L220.50,698.30 L222.40,699.17 L224.30,699.20 L226.20,698.37 L228.10,698.30 L230.00,698.83 L231.90,700.00 L233.80,698.73 L235.70,698.30 L238.30,700.20 L240.20,698.32 L242.10,697.10 L244.00,697.68 L245.90,697.70 L248.40,696.40 L250.30,694.36 L252.20,693.20 L254.80,696.20 L257.30,697.70 L259.80,701.50 L261.70,703.40 L263.30,701.54 L264.90,699.60 L266.73,699.22 L268.57,699.29 L270.40,699.50 L272.40,698.92 L274.40,698.50 L275.92,698.38 L277.45,697.58 L278.98,696.34 L280.50,696.40 L282.15,697.48 L283.80,699.10 L285.85,698.38 L287.90,698.50 L289.90,699.95 L291.90,700.50 L293.95,701.72 L296.00,702.20 L297.65,701.37 L299.30,699.80 L300.87,701.89 L302.43,703.49 L304.00,704.90 L306.70,702.50 L308.75,702.69 L310.80,701.80 L312.80,704.20 L314.80,705.90 L316.80,706.26 L318.80,707.20 L320.85,708.32 L322.90,708.60 L324.47,709.68 L326.03,711.11 L327.60,711.90" fill="none" stroke="#0b0bf0" stroke-width="3.2" stroke-linejoin="round" stroke-linecap="round"/>
<path d="M229.40,753.10 L231.60,752.56 L233.80,752.80 L235.65,751.60 L237.50,750.00 L239.40,751.40 L241.30,752.50 L243.15,753.44 L245.00,753.50 L246.67,753.44 L248.33,753.59 L250.00,754.00 L251.67,754.50 L253.33,754.69 L255.00,754.80 L256.55,754.20 L258.10,754.00 L260.00,757.80 L262.50,756.00 L264.17,756.05 L265.83,755.63 L267.50,755.60 L269.17,755.68 L270.83,754.82 L272.50,755.00 L274.40,755.97 L276.30,757.50 L277.97,758.23 L279.63,758.02 L281.30,758.50 L283.15,759.11 L285.00,760.20 L287.90,758.70 L289.90,759.95 L291.90,760.60 L293.43,761.23 L294.97,761.25 L296.50,762.10 L298.25,762.75 L300.00,763.30 L301.75,764.31 L303.50,765.00 L305.50,763.21 L307.50,762.10 L309.25,764.25 L311.00,766.10 L312.57,766.17 L314.15,766.84 L315.73,767.03 L317.30,767.90 L319.02,768.08 L320.75,769.33 L322.48,769.23 L324.20,769.80 L325.93,770.97 L327.65,771.09 L329.38,771.93 L331.10,772.50 L332.72,773.57 L334.34,774.09 L335.96,774.21 L337.58,775.39 L339.20,776.00" fill="none" stroke="#000" stroke-width="2.5" stroke-linejoin="round" stroke-linecap="round"/>
<path d="M237.20,794.10 L238.95,794.75 L240.70,794.26 L242.45,795.11 L244.20,795.20 L245.72,795.13 L247.24,795.99 L248.76,795.41 L250.28,796.30 L251.80,796.20 L253.70,796.21 L255.60,796.22 L257.50,795.80 L259.05,797.90 L260.60,799.20 L262.55,798.09 L264.50,797.40 L266.02,797.53 L267.54,798.09 L269.06,798.00 L270.58,798.25 L272.10,798.70 L273.62,798.74 L275.14,799.51 L276.66,799.78 L278.18,799.98 L279.70,800.00 L281.40,800.18 L283.10,801.14 L284.80,801.20 L286.47,801.64 L288.13,801.85 L289.80,802.50 L291.50,802.90 L293.20,803.30 L294.90,803.80 L297.70,802.00 L299.70,803.56 L301.70,805.80 L303.40,806.25 L305.10,806.49 L306.80,807.06 L308.50,807.40 L310.03,808.09 L311.56,808.20 L313.09,808.35 L314.61,809.06 L316.14,809.51 L317.67,809.45 L319.20,809.80 L320.74,810.73 L322.29,810.56 L323.83,811.23 L325.37,811.82 L326.91,813.01 L328.46,813.38 L330.00,813.80 L331.80,813.44 L333.60,812.56 L335.40,812.20 L337.20,813.43 L339.00,814.98 L340.80,815.90 L342.40,816.02 L344.00,816.47 L345.60,816.86 L347.20,817.63 L348.80,818.10 L350.34,818.87 L351.89,819.14 L353.43,819.52 L354.97,820.10 L356.51,820.34 L358.06,821.46 L359.60,821.60" fill="none" stroke="#2fe82f" stroke-width="2.9" stroke-linejoin="round" stroke-linecap="round"/>
<path d="M273.40,814.00 L275.09,814.30 L276.77,814.81 L278.46,815.18 L280.14,815.61 L281.83,816.00 L283.51,816.61 L285.20,816.90 L286.82,817.06 L288.45,817.71 L290.07,817.56 L291.70,818.14 L293.32,818.52 L294.95,818.71 L296.57,819.54 L298.20,819.70 L300.00,819.25 L301.80,819.33 L303.60,818.80 L305.75,820.86 L307.90,822.20 L309.46,822.29 L311.01,823.09 L312.57,823.31 L314.12,823.49 L315.68,823.27 L317.23,823.90 L318.79,824.32 L320.34,824.35 L321.90,824.80 L323.52,824.94 L325.13,825.36 L326.75,825.68 L328.37,826.46 L329.98,826.47 L331.60,826.89 L333.22,827.42 L334.83,828.03 L336.45,827.86 L338.07,828.02 L339.68,829.12 L341.30,829.10 L342.90,828.52 L344.50,827.40 L346.65,829.38 L348.80,830.90 L350.36,831.15 L351.91,831.15 L353.47,831.32 L355.02,831.68 L356.58,832.04 L358.13,831.95 L359.69,832.69 L361.24,832.95 L362.80,833.00 L364.31,832.87 L365.82,833.79 L367.33,833.77 L368.84,834.38 L370.35,834.28 L371.86,834.80 L373.37,834.78 L374.88,835.17 L376.39,835.34 L377.90,835.60" fill="none" stroke="#ee1515" stroke-width="2.9" stroke-linejoin="round" stroke-linecap="round"/>
<line x1="244.60" y1="704.15" x2="244.60" y2="746.90" stroke="#000" stroke-width="1.6"/>
<path d="M244.60,697.70 L240.75,710.60 L248.45,710.60 Z" fill="#000"/>
<path d="M244.60,753.00 L240.85,740.80 L248.35,740.80 Z" fill="#000"/>
<line x1="254.50" y1="760.05" x2="254.50" y2="794.45" stroke="#000" stroke-width="1.6"/>
<path d="M254.50,754.90 L251.30,765.20 L257.70,765.20 Z" fill="#000"/>
<path d="M254.50,799.90 L251.60,789.00 L257.40,789.00 Z" fill="#000"/>
<line x1="286.10" y1="801.00" x2="286.10" y2="818.00" stroke="#000" stroke-width="1.1"/>
<path d="M286.10,797.70 L284.10,804.20 L288.10,804.20 Z" fill="#000"/>
<path d="M286.10,821.00 L284.20,814.20 L288.00,814.20 Z" fill="#000"/>
<text transform="translate(142.72,734.20) scale(1.0827,1)" font-size="16" fill="#000" text-anchor="start">E<tspan font-size="12" font-weight="normal" dy="7.2" dx="0.6">c</tspan><tspan dy="-7.2">- 4.48 eV</tspan></text>
<text transform="translate(147.41,780.40) scale(1.0877,1)" font-size="16" fill="#000" text-anchor="start">E<tspan font-size="12" font-weight="normal" dy="7.2" dx="0.6">c</tspan><tspan dy="-7.2">- 2.00 eV</tspan></text>
<text transform="translate(161.32,818.10) scale(1.0827,1)" font-size="16" fill="#000" text-anchor="start">E<tspan font-size="12" font-weight="normal" dy="7.2" dx="0.6">c</tspan><tspan dy="-7.2">- 1.29 eV</tspan></text>
<text transform="translate(389.13,694.80) scale(1.0694,1)" font-size="20" fill="#740b15" text-anchor="start">Postrad</text>
<text transform="translate(370.70,725.80) scale(1.1603,1)" font-size="18.5" fill="#740b15" text-anchor="start">8.5X10</text>
<text transform="translate(440.90,714.00) scale(0.9545,1)" font-size="10" fill="#740b15" text-anchor="start">14</text>
<text transform="translate(453.80,725.80) scale(1.1875,1)" font-size="17" fill="#740b15" text-anchor="start">cm</text>
<text transform="translate(484.60,714.20) scale(0.9556,1)" font-size="9.5" fill="#740b15" text-anchor="start">-2</text>
<line x1="395.90" y1="768.60" x2="437.00" y2="768.60" stroke="#ee1515" stroke-width="3.0"/>
<text transform="translate(441.23,773.90) scale(1.0236,1)" font-size="16.5" fill="#000" text-anchor="start">Dark</text>
<line x1="395.90" y1="790.20" x2="437.00" y2="790.20" stroke="#2fe82f" stroke-width="3.0"/>
<text transform="translate(442.23,795.75) scale(1.0160,1)" font-size="16.5" fill="#000" text-anchor="start">1.8 eV</text>
<line x1="395.90" y1="812.40" x2="437.00" y2="812.40" stroke="#000" stroke-width="3.0"/>
<text transform="translate(442.00,817.60) scale(1.0208,1)" font-size="16.5" fill="#000" text-anchor="start">4.0 eV</text>
<line x1="395.90" y1="834.60" x2="437.00" y2="834.60" stroke="#0b0bf0" stroke-width="3.0"/>
<text transform="translate(442.00,839.50) scale(1.0208,1)" font-size="16.5" fill="#000" text-anchor="start">4.7 eV</text>
<text transform="translate(60.50,380.60) rotate(-90)" font-size="24.5">Net doping, N<tspan font-size="15" font-weight="normal" dy="9.5">D</tspan><tspan font-size="15" font-weight="normal" dy="-22.5">+</tspan><tspan dy="13">-N</tspan><tspan font-size="15" font-weight="normal" dy="9.5">A</tspan><tspan font-size="15" font-weight="normal" dy="-21.0" dx="1.8">-</tspan><tspan dy="11.5"> (x10</tspan><tspan font-size="13.5" dy="-14" dx="1.2">17</tspan><tspan dy="14" dx="0.5">cm</tspan><tspan font-size="14" font-weight="normal" stroke="#000" stroke-width="0.35" dy="-14" dx="0.4">-3</tspan><tspan dy="14" dx="1.6">)</tspan></text>
<text transform="translate(58.50,840.90) rotate(-90)" font-size="24.5">Net doping, N<tspan font-size="15" font-weight="normal" dy="9.5">D</tspan><tspan font-size="15" font-weight="normal" dy="-22.5">+</tspan><tspan dy="13">-N</tspan><tspan font-size="15" font-weight="normal" dy="9.5">A</tspan><tspan font-size="15" font-weight="normal" dy="-21.0" dx="1.8">-</tspan><tspan dy="11.5"> (x10</tspan><tspan font-size="13.5" dy="-14" dx="1.2">17</tspan><tspan dy="14" dx="0.5">cm</tspan><tspan font-size="14" font-weight="normal" stroke="#000" stroke-width="0.35" dy="-14" dx="0.4">-3</tspan><tspan dy="14" dx="1.6">)</tspan></text>
</svg>
</body></html>
